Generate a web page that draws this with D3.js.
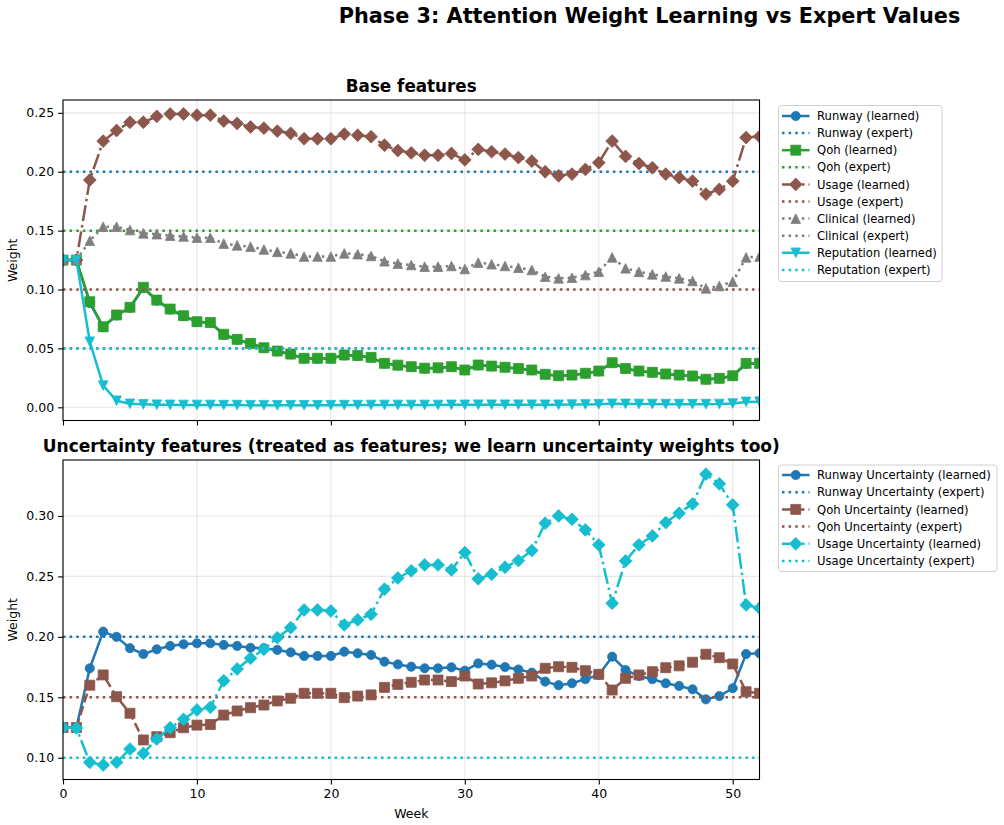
<!DOCTYPE html>
<html><head><meta charset="utf-8">
<script src="https://cdn.jsdelivr.net/npm/d3@7"></script>
<style>body{margin:0;background:#fff;} text{font-family:"DejaVu Sans",sans-serif;}</style>
</head><body>
<svg id="chart" width="1004" height="825"></svg>
<script>
const weeks = d3.range(0, 53);

// Base features (learned)
const runwayLearned = [0.125,0.125,0.0885,0.0680,0.0780,0.0845,0.1012,0.0905,0.0830,0.0775,0.0725,0.0718,0.0615,0.0573,0.0540,0.0503,0.0475,0.0449,0.0414,0.0413,0.0414,0.0441,0.0437,0.0421,0.0371,0.0356,0.0343,0.0330,0.0333,0.0343,0.0315,0.0356,0.0348,0.0338,0.0328,0.0315,0.0279,0.0267,0.0273,0.0287,0.0306,0.0376,0.0328,0.0306,0.0295,0.0281,0.0272,0.0264,0.0237,0.0245,0.0266,0.0370,0.0371];
const qohLearned = [0.125,0.125,0.0897,0.0684,0.0784,0.0849,0.1019,0.091,0.0834,0.0778,0.0727,0.072,0.062,0.0577,0.0543,0.0506,0.0478,0.0452,0.0416,0.0416,0.0416,0.0444,0.044,0.0424,0.0373,0.0358,0.0345,0.0332,0.0335,0.0345,0.0317,0.0359,0.035,0.034,0.033,0.0317,0.028,0.0268,0.0274,0.0289,0.0308,0.0379,0.033,0.0308,0.0297,0.0283,0.0274,0.0266,0.0238,0.0246,0.0268,0.0373,0.0373];
const usageLearned = [0.125,0.125,0.193,0.226,0.235,0.242,0.242,0.247,0.249,0.249,0.248,0.248,0.243,0.241,0.238,0.237,0.2345,0.2326,0.228,0.228,0.228,0.232,0.231,0.2297,0.2225,0.218,0.216,0.214,0.214,0.2155,0.210,0.219,0.217,0.215,0.212,0.209,0.200,0.1966,0.198,0.202,0.2077,0.226,0.213,0.207,0.2034,0.198,0.195,0.192,0.181,0.185,0.192,0.229,0.230];
const clinicalLearned = [0.125,0.125,0.1414,0.1533,0.1533,0.1505,0.1477,0.147,0.1457,0.145,0.144,0.144,0.139,0.1375,0.1363,0.134,0.132,0.1307,0.128,0.128,0.128,0.1307,0.130,0.1285,0.124,0.122,0.1208,0.1194,0.1194,0.120,0.1174,0.1228,0.1215,0.120,0.1185,0.1166,0.1109,0.1095,0.110,0.1123,0.1151,0.1273,0.118,0.115,0.1129,0.111,0.1095,0.1072,0.101,0.103,0.1066,0.1273,0.128];
const reputationLearned = [0.125,0.125,0.0557,0.0184,0.0056,0.003,0.0025,0.0022,0.0021,0.002,0.002,0.002,0.0019,0.0019,0.0018,0.0018,0.0017,0.0017,0.0017,0.0017,0.0018,0.0019,0.0019,0.002,0.002,0.002,0.002,0.002,0.002,0.0021,0.0021,0.0022,0.0022,0.0022,0.0022,0.0022,0.0022,0.0022,0.0023,0.0024,0.0026,0.003,0.0029,0.0028,0.0028,0.0027,0.0027,0.0027,0.0027,0.0028,0.0032,0.0046,0.0048];

// Base features (expert)
const baseNames = ["Runway","Qoh","Usage","Clinical","Reputation"];
const baseExpert = [0.20, 0.15, 0.10, 0.05, 0.05];

// Uncertainty features (learned)
const runwayUncLearned = [0.125,0.125,0.174,0.2043,0.200,0.1906,0.1858,0.1897,0.1925,0.1939,0.1947,0.1947,0.1933,0.1925,0.191,0.1906,0.1892,0.1872,0.1842,0.1842,0.1842,0.1877,0.1864,0.185,0.1795,0.1772,0.1753,0.174,0.174,0.1748,0.172,0.178,0.177,0.175,0.173,0.1704,0.163,0.160,0.1616,0.165,0.1685,0.1836,0.1726,0.1676,0.165,0.1616,0.1594,0.1566,0.1483,0.151,0.1575,0.1858,0.1864];
const qohUncLearned = [0.125,0.125,0.160,0.1685,0.1505,0.1368,0.1147,0.1174,0.1207,0.1248,0.127,0.1275,0.1353,0.1387,0.1414,0.1436,0.147,0.1492,0.1533,0.1533,0.1533,0.1497,0.151,0.152,0.1582,0.1607,0.1624,0.1643,0.1643,0.163,0.1676,0.161,0.162,0.1636,0.1657,0.1676,0.174,0.1753,0.1748,0.172,0.169,0.156,0.1657,0.1685,0.1712,0.1745,0.176,0.179,0.1856,0.1828,0.1776,0.1546,0.1533];
const usageUncLearned = [0.125,0.1245,0.0962,0.094,0.0962,0.1072,0.1036,0.1155,0.1248,0.1318,0.1395,0.1417,0.1637,0.1734,0.1823,0.1897,0.1993,0.2076,0.2222,0.2222,0.2214,0.2099,0.214,0.2187,0.2394,0.2487,0.2546,0.2595,0.2595,0.2554,0.2697,0.248,0.2518,0.2576,0.2631,0.2714,0.294,0.300,0.2973,0.2885,0.2761,0.2278,0.2628,0.2761,0.2835,0.2945,0.3023,0.310,0.3346,0.3266,0.3092,0.2264,0.2237];

const uncNames = ["Runway Uncertainty","Qoh Uncertainty","Usage Uncertainty"];
const uncExpert = [0.20, 0.15, 0.10];

const xTicks = [0,10,20,30,40,50];
const yTicksTop = [0,0.05,0.10,0.15,0.20,0.25];
const yTicksBottom = [0.10,0.15,0.20,0.25,0.30];

const C = {blue:"#1f77b4", green:"#2ca02c", brown:"#8c564b", gray:"#7f7f7f", cyan:"#17becf"};
const LW = 2.5;
const DASH = {
  solid: null,
  dotted: `${LW},${1.65*LW}`,
  dashdot: `${6.4*LW},${1.6*LW},${1*LW},${1.6*LW}`,
  dashed: `${3.7*LW},${1.6*LW}`
};

const topSeries = [
  {name:baseNames[0], vals:runwayLearned, color:C.blue, marker:"circle", dash:"solid", expert:baseExpert[0]},
  {name:baseNames[1], vals:qohLearned, color:C.green, marker:"square", dash:"solid", expert:baseExpert[1]},
  {name:baseNames[2], vals:usageLearned, color:C.brown, marker:"diamond", dash:"dashdot", expert:baseExpert[2]},
  {name:baseNames[3], vals:clinicalLearned, color:C.gray, marker:"triUp", dash:"dotted", expert:baseExpert[3]},
  {name:baseNames[4], vals:reputationLearned, color:C.cyan, marker:"triDown", dash:"solid", expert:baseExpert[4]}
];
const botSeries = [
  {name:uncNames[0], vals:runwayUncLearned, color:C.blue, marker:"circle", dash:"solid", expert:uncExpert[0]},
  {name:uncNames[1], vals:qohUncLearned, color:C.brown, marker:"square", dash:"dashed", expert:uncExpert[1]},
  {name:uncNames[2], vals:usageUncLearned, color:C.cyan, marker:"diamond", dash:"dashdot", expert:uncExpert[2]}
];

function markerPath(type){
  switch(type){
    case "circle": { const r=4.6; return `M${r},0A${r},${r} 0 1,1 ${-r},0A${r},${r} 0 1,1 ${r},0Z`; }
    case "square": { const h=5.0; return `M${-h},${-h}H${h}V${h}H${-h}Z`; }
    case "diamond": { const h=6.4; return `M0,${-h}L${h},0L0,${h}L${-h},0Z`; }
    case "triUp": { const h=4.8; return `M0,${-h}L${h},${h}L${-h},${h}Z`; }
    case "triDown": { const h=4.8; return `M0,${h}L${h},${-h}L${-h},${-h}Z`; }
  }
}

const svg = d3.select("#chart");
const left = 63, right = 759.5;
const x = d3.scaleLinear().domain([0,52]).range([left,right]);

svg.append("text").attr("x",649.5).attr("y",23).attr("text-anchor","middle")
  .attr("font-size",20.8).attr("font-weight","bold").text("Phase 3: Attention Weight Learning vs Expert Values");

function panel(opts){
  const {top, bottom, domain, ticks, series, title, titleY, titleSize, showX, legend, id} = opts;
  const y = d3.scaleLinear().domain(domain).range([bottom, top]);
  const g = svg.append("g");
  g.append("defs").append("clipPath").attr("id",id).append("rect")
    .attr("x",left).attr("y",top).attr("width",right-left).attr("height",bottom-top);
  // grid
  g.append("g").selectAll("line.gx").data(xTicks).join("line")
    .attr("x1",d=>x(d)).attr("x2",d=>x(d)).attr("y1",top).attr("y2",bottom)
    .attr("stroke","#b0b0b0").attr("stroke-opacity",0.3).attr("stroke-width",1.1);
  g.append("g").selectAll("line.gy").data(ticks).join("line")
    .attr("x1",left).attr("x2",right).attr("y1",d=>y(d)).attr("y2",d=>y(d))
    .attr("stroke","#b0b0b0").attr("stroke-opacity",0.3).attr("stroke-width",1.1);

  const plot = g.append("g").attr("clip-path",`url(#${id})`);
  const line = d3.line().x((d,i)=>x(weeks[i])).y(d=>y(d));
  series.forEach(s=>{
    const sg = plot.append("g");
    sg.append("path").attr("d",line(s.vals)).attr("fill","none").attr("stroke",s.color)
      .attr("stroke-width",LW).attr("stroke-linejoin","round")
      .attr("stroke-dasharray",DASH[s.dash]);
    sg.selectAll("path.m").data(s.vals).join("path").attr("class","m")
      .attr("transform",(d,i)=>`translate(${x(weeks[i])},${y(d)})`)
      .attr("d",markerPath(s.marker)).attr("fill",s.color).attr("stroke",s.color).attr("stroke-width",0.8);
    plot.append("line").attr("x1",left).attr("x2",right).attr("y1",y(s.expert)).attr("y2",y(s.expert))
      .attr("stroke",s.color).attr("stroke-width",LW).attr("stroke-dasharray",DASH.dotted);
  });

  // axes
  const yAxis = d3.axisLeft(y).tickValues(ticks).tickFormat(d3.format(".2f")).tickSizeOuter(0).tickSize(4.9).tickPadding(4);
  const ya = g.append("g").attr("transform",`translate(${left},0)`).call(yAxis);
  ya.select(".domain").remove();
  ya.selectAll("text").attr("font-size",12.5).attr("font-family","DejaVu Sans").attr("fill","#000");
  ya.selectAll("line").attr("stroke","#000").attr("stroke-width",1.1);
  const xAxis = d3.axisBottom(x).tickValues(xTicks).tickSizeOuter(0).tickSize(4.9).tickPadding(4.5);
  if(!showX) xAxis.tickFormat("");
  const xa = g.append("g").attr("transform",`translate(0,${bottom})`).call(xAxis);
  xa.select(".domain").remove();
  xa.selectAll("text").attr("font-size",12.5).attr("font-family","DejaVu Sans").attr("fill","#000");
  xa.selectAll("line").attr("stroke","#000").attr("stroke-width",1.1);
  // frame
  g.append("rect").attr("x",left).attr("y",top).attr("width",right-left).attr("height",bottom-top)
    .attr("fill","none").attr("stroke","#000").attr("stroke-width",1.1);

  g.append("text").attr("x",(left+right)/2).attr("y",titleY).attr("text-anchor","middle")
    .attr("font-size",titleSize).attr("font-weight","bold").text(title);
  g.append("text").attr("transform",`translate(17,${(top+bottom)/2}) rotate(-90)`)
    .attr("text-anchor","middle").attr("font-size",12.5).text("Weight");

  // legend
  const lg = svg.append("g");
  const entries = [];
  series.forEach(s=>{
    entries.push({label:`${s.name} (learned)`, s, learned:true});
    entries.push({label:`${s.name} (expert)`, s, learned:false});
  });
  lg.append("rect").attr("x",legend.x).attr("y",legend.y).attr("width",legend.w)
    .attr("height",legend.h).attr("rx",3).attr("fill","#fff").attr("fill-opacity",0.8)
    .attr("stroke","#d0d0d0").attr("stroke-width",1);
  entries.forEach((e,i)=>{
    const cy = legend.firstY + i*legend.step;
    const hx0 = legend.x+3.5, hx1 = legend.x+31;
    lg.append("line").attr("x1",hx0).attr("x2",hx1).attr("y1",cy).attr("y2",cy)
      .attr("stroke",e.s.color).attr("stroke-width",LW)
      .attr("stroke-dasharray", e.learned ? DASH[e.s.dash] : DASH.dotted);
    if(e.learned){
      lg.append("path").attr("transform",`translate(${(hx0+hx1)/2},${cy})`)
        .attr("d",markerPath(e.s.marker)).attr("fill",e.s.color).attr("stroke",e.s.color).attr("stroke-width",0.8);
    }
    lg.append("text").attr("x",legend.x+38.5).attr("y",cy).attr("dy","0.36em")
      .attr("font-size",11.6).text(e.label);
  });
  return y;
}

panel({id:"clipTop", top:100, bottom:420.5, domain:[-0.0112,0.2609], ticks:yTicksTop, series:topSeries,
  title:"Base features", titleY:92, titleSize:16.8, showX:false,
  legend:{x:778.5, y:105.5, w:163.5, h:176, firstY:116, step:17.1}});
panel({id:"clipBot", top:460, bottom:779.5, domain:[0.0820,0.3463], ticks:yTicksBottom, series:botSeries,
  title:"Uncertainty features (treated as features; we learn uncertainty weights too)", titleY:452, titleSize:17.0, showX:true,
  legend:{x:778.5, y:465, w:218.5, h:106.5, firstY:475, step:17.2}});

svg.append("text").attr("x",(left+right)/2).attr("y",818).attr("text-anchor","middle")
  .attr("font-size",12.5).text("Week");
</script>
</body></html>
